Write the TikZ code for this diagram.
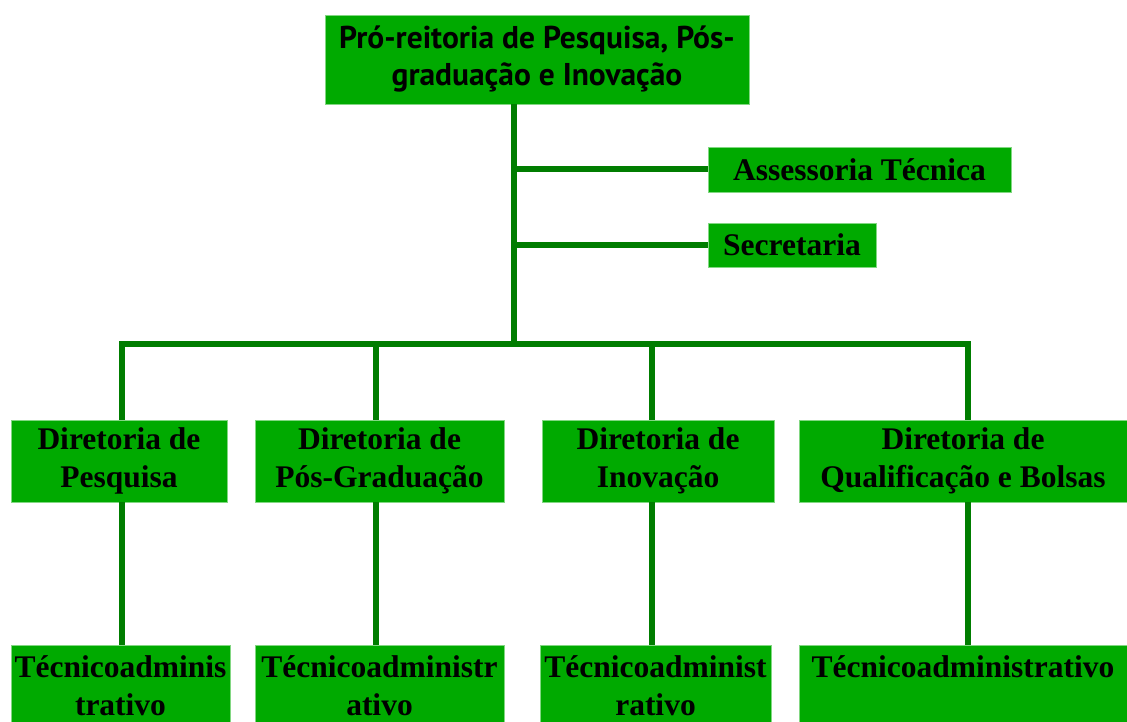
\documentclass[tikz,border=0pt]{standalone}
\usepackage{fontspec}
\setmainfont{Liberation Serif}
\newfontfamily\topfont{PT Sans}
\definecolor{boxgreen}{RGB}{0,170,0}
\definecolor{linegreen}{RGB}{0,125,0}
\definecolor{edgegreen}{RGB}{130,215,130}
\begin{document}
\begin{tikzpicture}[x=1pt,y=-1pt,
  box/.style={draw=edgegreen, line width=0.8pt, fill=boxgreen, inner sep=0pt, align=center},
  serif/.style={font=\bfseries\fontsize{31.5}{38}\selectfont},
  txt/.style={serif, inner sep=0pt, align=center},
  conn/.style={draw=linegreen, line width=6pt}]
\useasboundingbox (0,0) rectangle (1127,722);
% coordinates of the trunk and bus
\coordinate (bus) at (514,344);
\coordinate (busL) at (122,344);
\coordinate (busR) at (968,344);
\coordinate (col2) at (376,344);
\coordinate (col3) at (652,344);
% boxes
\node[box, minimum width=424pt, minimum height=89pt,
      font=\topfont\bfseries\fontsize{31.5}{37}\selectfont] (top) at (537,59.5)
      {Pró-reitoria de Pesquisa, Pós-\\graduação e Inovação};
\node[box, serif, minimum width=303pt, minimum height=45pt] (assess) at (859.5,169.5) {Assessoria Técnica};
\node[box, serif, minimum width=168pt, minimum height=44pt] (secr) at (792,245) {Secretaria};
\node[box, serif, minimum width=216pt, minimum height=82pt] (d1) at (119,461) {Diretoria de\\Pesquisa};
\node[box, serif, minimum width=249pt, minimum height=82pt] (d2) at (379.5,461) {Diretoria de\\Pós-Graduação};
\node[box, serif, minimum width=232pt, minimum height=82pt] (d3) at (658,461) {Diretoria de\\Inovação};
\node[box, serif, minimum width=328pt, minimum height=82pt] (d4) at (963,461) {Diretoria de\\Qualificação e Bolsas};
\node[box, minimum width=219pt, minimum height=77pt] (t1) at (120.5,683.5) {};
\node[box, minimum width=249pt, minimum height=77pt] (t2) at (379.5,683.5) {};
\node[box, minimum width=231pt, minimum height=77pt] (t3) at (655.5,683.5) {};
\node[box, minimum width=328pt, minimum height=77pt] (t4) at (963,683.5) {};
\node[txt, anchor=north] (t1txt) at ([yshift=-11pt]t1.north) {Técnicoadminis\\trativo};
\node[txt, anchor=north] (t2txt) at ([yshift=-11pt]t2.north) {Técnicoadministr\\ativo};
\node[txt, anchor=north] (t3txt) at ([yshift=-11pt]t3.north) {Técnicoadminist\\rativo};
\node[txt, anchor=north] (t4txt) at ([yshift=-11pt]t4.north) {Técnicoadministrativo};
% connectors
\draw[conn] (top.south -| bus) -- (bus);
\draw[conn] (assess.west -| bus) -- (assess.west);
\draw[conn] (secr.west -| bus) -- (secr.west);
\draw[conn, line join=miter] (d1.north -| busL) -- (busL) -- (busR) -- (d4.north -| busR);
\draw[conn] (col2) -- (d2.north -| col2);
\draw[conn] (col3) -- (d3.north -| col3);
\draw[conn] (d1.south -| busL) -- (t1.north -| busL);
\draw[conn] (d2.south -| col2) -- (t2.north -| col2);
\draw[conn] (d3.south -| col3) -- (t3.north -| col3);
\draw[conn] (d4.south -| busR) -- (t4.north -| busR);
\end{tikzpicture}
\end{document}
